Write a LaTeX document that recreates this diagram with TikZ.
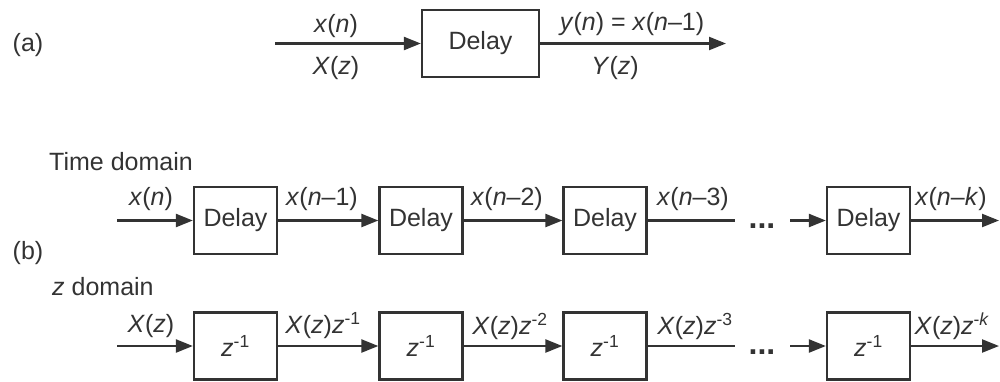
\documentclass[tikz,border=0pt]{standalone}
\usepackage{fontspec}
\setmainfont{Liberation Sans}
\usetikzlibrary{arrows.meta}
\definecolor{ink}{HTML}{333333}
\newcommand\itv[1]{\textit{#1}}
\begin{document}
\begin{tikzpicture}[x=1pt,y=-1pt,font=\fontsize{25}{30}\selectfont,
  blk/.style={draw=ink,line width=2.3pt,minimum width=83pt,minimum height=67pt,inner sep=0pt,text=ink},
  sig/.style={draw=ink,line width=2.3pt,-{Triangle[length=17pt,width=13pt]}},
  wire/.style={draw=ink,line width=2.3pt},
  lbl/.style={text=ink,inner sep=0pt},
  dots/.style={text=ink,inner sep=0pt,font=\fontsize{32}{36}\selectfont\bfseries}]
\useasboundingbox (0,0) rectangle (1000,381);

% ---------- (a) ----------
\node[lbl] (la) at (28,45) {(a)};
\node[blk,minimum width=117pt] (A) at (480.5,43.5) {Delay};
\coordinate (Ain) at (275,43.5);
\coordinate (Aout) at (726,43.5);
\draw[sig] (Ain) -- (A.west);
\draw[sig] (A.east) -- (Aout);
\node[lbl] (axn) at (336,26) {\itv{x}(\itv{n})};
\node[lbl] (aXz) at (336,68) {\itv{X}(\itv{z})};
\node[lbl] (ayn) at (632,24) {\itv{y}(\itv{n}) = \itv{x}(\itv{n}–1)};
\node[lbl] (aYz) at (615,68) {\itv{Y}(\itv{z})};

% ---------- (b) ----------
\node[lbl,anchor=west] (td) at (49,162) {Time domain};
\node[lbl,anchor=west] (zd) at (52,287) {\itv{z} domain};
\node[lbl] (lb) at (28,253) {(b)};

% time domain row
\node[blk] (T1) at (235.5,220.5) {Delay};
\node[blk] (T2) at (421,220.5) {Delay};
\node[blk] (T3) at (605,220.5) {Delay};
\node[blk] (T4) at (868.5,220.5) {Delay};
\coordinate (Tin) at (117,220.5);
\coordinate (T3end) at (735,220.5);
\coordinate (T4start) at (790,220.5);
\coordinate (Tout) at (999,220.5);
\draw[sig] (Tin) -- (T1.west);
\draw[sig] (T1.east) -- (T2.west);
\draw[sig] (T2.east) -- (T3.west);
\draw[wire] (T3.east) -- (T3end);
\draw[sig] (T4start) -- (T4.west);
\draw[sig] (T4.east) -- (Tout);
\node[dots] (tdots) at (762,226) {...};
\node[lbl] (t0) at (151,199) {\itv{x}(\itv{n})};
\node[lbl] (t1) at (322,199) {\itv{x}(\itv{n}–1)};
\node[lbl] (t2) at (507,199) {\itv{x}(\itv{n}–2)};
\node[lbl] (t3) at (693,199) {\itv{x}(\itv{n}–3)};
\node[lbl] (tk) at (951,199) {\itv{x}(\itv{n}–\itv{k})};

% z domain row
\node[blk] (Z1) at (235.5,346) {\itv{z}\textsuperscript{-1}};
\node[blk] (Z2) at (421,346) {\itv{z}\textsuperscript{-1}};
\node[blk] (Z3) at (605,346) {\itv{z}\textsuperscript{-1}};
\node[blk] (Z4) at (868.5,346) {\itv{z}\textsuperscript{-1}};
\coordinate (Zin) at (117,346);
\coordinate (Z3end) at (735,346);
\coordinate (Z4start) at (790,346);
\coordinate (Zout) at (999,346);
\draw[sig] (Zin) -- (Z1.west);
\draw[sig] (Z1.east) -- (Z2.west);
\draw[sig] (Z2.east) -- (Z3.west);
\draw[wire] (Z3.east) -- (Z3end);
\draw[sig] (Z4start) -- (Z4.west);
\draw[sig] (Z4.east) -- (Zout);
\node[dots] (zdots) at (762,352) {...};
\node[lbl] (z0) at (151,326) {\itv{X}(\itv{z})};
\node[lbl] (z1) at (323,326) {\itv{X}(\itv{z})\itv{z}\textsuperscript{-1}};
\node[lbl] (z2) at (510,326) {\itv{X}(\itv{z})\itv{z}\textsuperscript{-2}};
\node[lbl] (z3) at (695,326) {\itv{X}(\itv{z})\itv{z}\textsuperscript{-3}};
\node[lbl] (zk) at (952,326) {\itv{X}(\itv{z})\itv{z}\textsuperscript{-\itv{k}}};
\end{tikzpicture}
\end{document}
